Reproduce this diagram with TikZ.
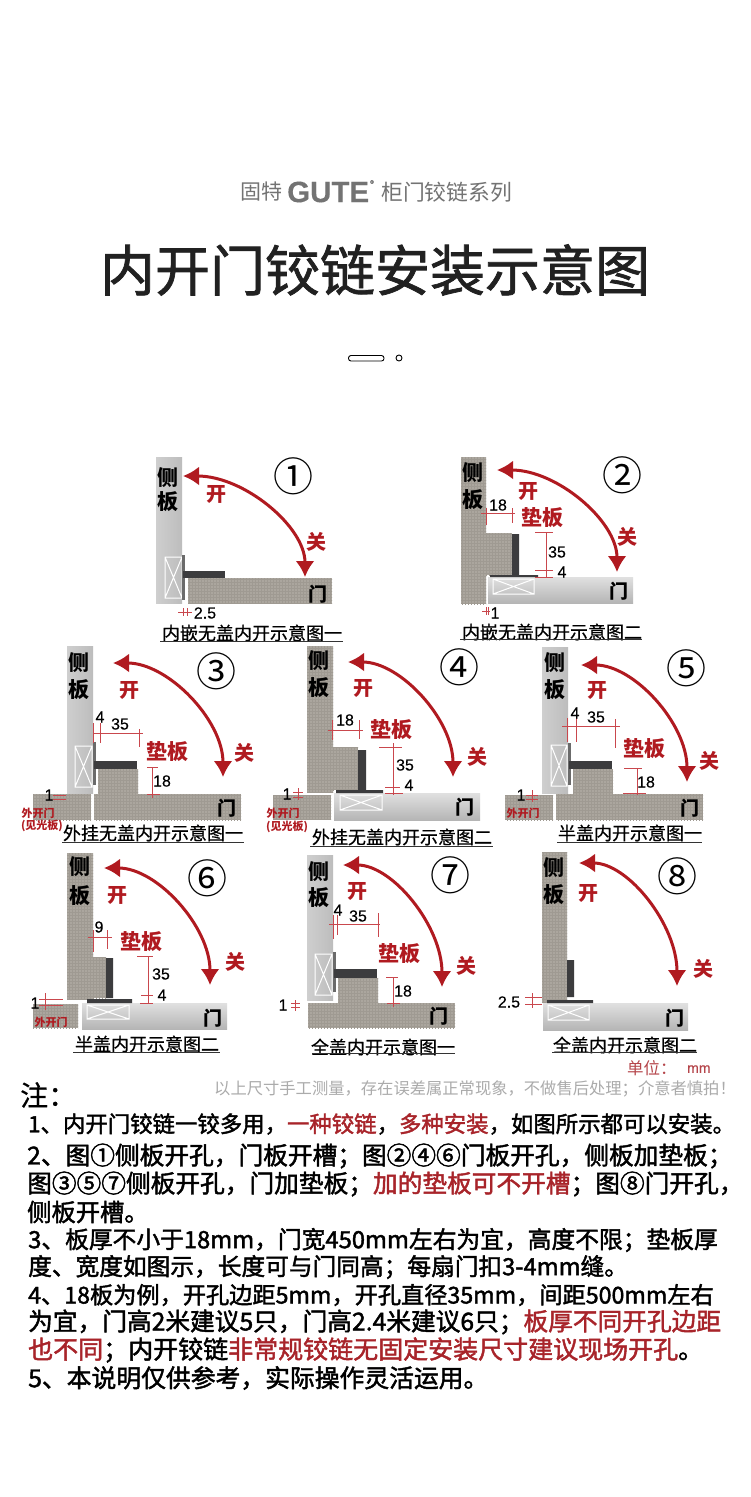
\documentclass[tikz,border=0pt]{standalone}
\usepackage{fontspec}
\usetikzlibrary{arrows.meta,calc,patterns}
\setmainfont{Noto Sans CJK SC}
\newfontfamily\latinfont[FakeBold=0.25]{Liberation Sans}
\newfontfamily\titlefont[FakeBold=1.3]{Noto Sans CJK SC}
\newfontfamily\notefont[FakeBold=1.8]{Noto Sans CJK SC}
\newfontfamily\capfont[FakeBold=0.6]{Noto Sans CJK SC}
\definecolor{swingred}{HTML}{B01A20}
\definecolor{dimred}{HTML}{C9474D}
\definecolor{notered}{HTML}{A8242A}
\definecolor{woodgray}{HTML}{ABA69E}
\definecolor{woodline}{HTML}{9F9A92}
\definecolor{hingedark}{HTML}{3C3C3E}
\newcommand{\fsize}[1]{\fontsize{#1}{#1}\selectfont}
\newcommand{\redpart}[1]{\textcolor{notered}{#1}}
\newcommand{\swing}[3]{
    \coordinate (open#1) at (#2);
    \coordinate (shut#1) at (#3);
    \draw[swingarrow] (open#1) .. controls ($(open#1)!.5!(open#1 -| shut#1)$) and ($(shut#1)!.5!(open#1 -| shut#1)$) .. (shut#1);
}
\newcommand{\crossbox}[4]{
    \draw[crossline] (#1,#2) rectangle (#3,#4) (#1,#2) -- (#3,#4) (#3,#2) -- (#1,#4);
}
\newcommand{\noteline}[5]{
    \node[noteline,font=\notefont\fsize{#4}] (#1) at (#3,#2) {#5};
}
\tikzset{
    woodboard/.style={fill=woodgray,postaction={pattern=grid,pattern color=woodline}},
    sideboard/.style={left color=black!19,right color=black!26},
    doorboard/.style={top color=black!12,bottom color=black!29},
    hingepart/.style={fill=hingedark},
    stripepart/.style={fill=black!58},
    crossline/.style={draw=white,line width=1pt},
    swingarrow/.style={draw=swingred,line width=3pt,<->,>={Latex[length=16pt,width=19pt]}},
    dimline/.style={draw=dimred,line width=0.7pt},
    sidelabel/.style={font=\bfseries\fsize{21},inner sep=0pt},
    doorlabel/.style={font=\bfseries\fsize{19},inner sep=0pt},
    redlabel/.style={font=\bfseries\fsize{20},text=swingred,inner sep=0pt},
    padlabel/.style={font=\bfseries\fsize{21},text=swingred,inner sep=0pt},
    numlabel/.style={font=\fsize{40},inner sep=0pt},
    dimtext/.style={font=\latinfont\fsize{16},inner sep=0pt},
    outerlabel/.style={font=\bfseries\fsize{11},text=swingred,inner sep=0pt},
    capnote/.style={font=\capfont\fsize{18},inner sep=0pt},
    capline/.style={draw=black!80,line width=0.8pt},
    noteline/.style={anchor=west,inner sep=0pt}
}
\begin{document}
\begin{tikzpicture}[x=1pt,y=-1pt]
    \useasboundingbox (0,0) rectangle (750,1497);
    \fill[white] (0,0) rectangle (750,1497);
    %% Heading
    \node[font=\fsize{21},text=black!55,anchor=west,inner sep=0pt] (brandcn) at (240,192) {固特};
    \node[font=\latinfont\bfseries\fsize{29.5},text=black!55,anchor=west,inner sep=0pt] (brand) at (287,192) {GUTE};
    \node[font=\latinfont\fsize{5},text=black!55,inner sep=0pt] (brandmark) at (372,182) {®};
    \node[font=\fsize{21.8},text=black!55,anchor=west,inner sep=0pt] (series) at (381,192) {柜门铰链系列};
    \node[font=\titlefont\fsize{55},text=black!87,inner sep=0pt] (title) at (375,270) {内开门铰链安装示意图};
    \draw[line width=0.9pt,rounded corners=2.5pt] (348.5,355.5) rectangle (384,361);
    \draw[line width=0.9pt] (399,358) circle (3);

    %% Panel 1
    \path[sideboard] (156,457) rectangle (182,603);
    \path[woodboard] (188,578) rectangle (332,603);
    \crossbox{165}{557}{182}{598}
    \fill[stripepart] (182,555) rectangle (185,600);
    \fill[hingepart] (183,571) rectangle (225,578);
    \swing{1}{183,476}{305,577}
    \node[sidelabel] (ce1) at (168,478) {侧};
    \node[sidelabel] (ban1) at (168,502) {板};
    \node[doorlabel] (men1) at (318,594) {门};
    \node[redlabel] (kai1) at (216,494) {开};
    \node[redlabel] (guan1) at (316,542) {关};
    \node[numlabel] (num1) at (293,476) {①};
    \draw[dimline] (178,612) -- (192,612) (183,608) -- (183,616) (187,608) -- (187,616);
    \node[dimtext] (d1a) at (205,613) {2.5};
    \node[capnote] (cap1) at (252,633) {内嵌无盖内开示意图一};
    \draw[capline] (160,641) -- (343,641);

    %% Panel 2
    \path[woodboard] (461,457) rectangle (486,604);
    \path[doorboard] (488,577) rectangle (633,603);
    \crossbox{493}{579}{534}{594}
    \path[woodboard] (486,533) rectangle (512,575);
    \fill[hingepart] (512,534) rectangle (519,575) (490,575) rectangle (538,577);
    \swing{2}{497,470}{617,572}
    \node[sidelabel] (ce2) at (473,473) {侧};
    \node[sidelabel] (ban2) at (473,500) {板};
    \node[doorlabel] (men2) at (619,591) {门};
    \node[redlabel] (kai2) at (528,491) {开};
    \node[redlabel] (guan2) at (627,537) {关};
    \node[padlabel] (pad2) at (542,518) {垫板};
    \node[numlabel] (num2) at (622,475) {②};
    \draw[dimline] (481,513) -- (515,513) (486,508) -- (486,525) (512,508) -- (512,523);
    \draw[dimline] (546,532) -- (546,578) (535,532) -- (553,532) (535,570) -- (553,570) (535,577) -- (553,577);
    \draw[dimline] (482,611) -- (490,611) (486,607) -- (486,615) (488,607) -- (488,615);
    \node[dimtext] (d2a) at (498,505) {18};
    \node[dimtext] (d2b) at (557,552) {35};
    \node[dimtext] (d2c) at (562,572) {4};
    \node[dimtext] (d2d) at (495,613) {1};
    \node[capnote] (cap2) at (552,632) {内嵌无盖内开示意图二};
    \draw[capline] (460,639) -- (642,639);

    %% Panel 3
    \path[sideboard] (67,646) rectangle (93,793);
    \path[woodboard] (94,794) rectangle (241,820);
    \path[woodboard] (33,794) rectangle (91,820);
    \crossbox{75}{746}{92}{787}
    \path[woodboard] (98,769) rectangle (138,794);
    \fill[stripepart] (93,742) rectangle (96,785);
    \fill[hingepart] (94,761) rectangle (137,769);
    \swing{3}{113,663}{223,777}
    \node[sidelabel] (ce3) at (79,663) {侧};
    \node[sidelabel] (ban3) at (79,690) {板};
    \node[doorlabel] (men3) at (227,808) {门};
    \node[redlabel] (kai3) at (129,690) {开};
    \node[redlabel] (guan3) at (244,753) {关};
    \node[padlabel] (pad3) at (167,752) {垫板};
    \node[numlabel] (num3) at (216,671) {③};
    \draw[dimline] (93,733) -- (143,733) (93,723) -- (93,743) (100,723) -- (100,743) (139,729) -- (139,747);
    \draw[dimline] (152,767) -- (152,798) (147,767) -- (158,767) (147,794) -- (160,794);
    \draw[dimline] (53,795) -- (66,795) (53,799) -- (66,799);
    \node[dimtext] (d3a) at (100,717) {4};
    \node[dimtext] (d3b) at (120,724) {35};
    \node[dimtext] (d3c) at (162,781) {18};
    \node[dimtext] (d3d) at (49,795) {1};
    \node[outerlabel] (out3a) at (38,813) {外开门};
    \node[outerlabel] (out3b) at (42,826) {(见光板)};
    \node[capnote] (cap3) at (153,833) {外挂无盖内开示意图一};
    \draw[capline] (62,842) -- (244,842);

    %% Panel 4
    \path[woodboard] (307,646) rectangle (333,792);
    \path[woodboard] (273,795) rectangle (331,819);
    \path[doorboard] (334,793) rectangle (480,820);
    \crossbox{340}{795}{382}{810}
    \path[woodboard] (333,747) rectangle (358,790);
    \fill[hingepart] (358,750) rectangle (366,790) (336,790) rectangle (383,793);
    \swing{4}{348,662}{453,777}
    \node[sidelabel] (ce4) at (319,661) {侧};
    \node[sidelabel] (ban4) at (319,688) {板};
    \node[doorlabel] (men4) at (465,807) {门};
    \node[redlabel] (kai4) at (363,688) {开};
    \node[redlabel] (guan4) at (477,757) {关};
    \node[padlabel] (pad4) at (391,730) {垫板};
    \node[numlabel] (num4) at (459,667) {④};
    \draw[dimline] (328,730) -- (363,730) (332,720) -- (332,740) (359,720) -- (359,739);
    \draw[dimline] (393,743) -- (393,795) (379,747) -- (402,747) (385,787) -- (400,787) (385,793) -- (403,793);
    \draw[dimline] (293,792) -- (303,792) (293,797) -- (303,797) (298,788) -- (298,800);
    \node[dimtext] (d4a) at (345,720) {18};
    \node[dimtext] (d4b) at (405,765) {35};
    \node[dimtext] (d4c) at (409,785) {4};
    \node[dimtext] (d4d) at (287,794) {1};
    \node[outerlabel] (out4a) at (283,813) {外开门};
    \node[outerlabel] (out4b) at (287,827) {(见光板)};
    \node[capnote] (cap4) at (402,837) {外挂无盖内开示意图二};
    \draw[capline] (310,846) -- (493,846);

    %% Panel 5
    \path[sideboard] (542,647) rectangle (568,793);
    \path[woodboard] (556,794) rectangle (703,820);
    \path[woodboard] (505,795) rectangle (553,820);
    \crossbox{551}{745}{567}{786}
    \path[woodboard] (573,769) rectangle (613,794);
    \fill[stripepart] (568,743) rectangle (571,785);
    \fill[hingepart] (569,761) rectangle (612,769);
    \swing{5}{581,665}{687,782}
    \node[sidelabel] (ce5) at (555,663) {侧};
    \node[sidelabel] (ban5) at (555,690) {板};
    \node[doorlabel] (men5) at (690,808) {门};
    \node[redlabel] (kai5) at (597,690) {开};
    \node[redlabel] (guan5) at (709,761) {关};
    \node[padlabel] (pad5) at (644,749) {垫板};
    \node[numlabel] (num5) at (686,668) {⑤};
    \draw[dimline] (562,726) -- (620,726) (567,718) -- (567,742) (576,718) -- (576,742) (615,719) -- (615,748);
    \draw[dimline] (637,768) -- (637,795) (624,768) -- (642,768) (623,793) -- (646,793);
    \draw[dimline] (526,795) -- (538,795) (526,799) -- (538,799) (532,790) -- (532,802);
    \node[dimtext] (d5a) at (575,713) {4};
    \node[dimtext] (d5b) at (596,717) {35};
    \node[dimtext] (d5c) at (646,782) {18};
    \node[dimtext] (d5d) at (521,795) {1};
    \node[outerlabel] (out5a) at (523,813) {外开门};
    \node[capnote] (cap5) at (630,833) {半盖内开示意图一};
    \draw[capline] (557,842) -- (702,842);

    %% Panel 6
    \path[woodboard] (67,853) rectangle (93,999);
    \path[woodboard] (33,1004) rectangle (78,1028);
    \path[doorboard] (82,1003) rectangle (227,1029);
    \crossbox{87}{1005}{129}{1019}
    \path[woodboard] (93,957) rectangle (106,998);
    \fill[hingepart] (106,958) rectangle (113,998) (87,999) rectangle (132,1003);
    \swing{6}{104,868}{210,985}
    \node[sidelabel] (ce6) at (80,867) {侧};
    \node[sidelabel] (ban6) at (80,896) {板};
    \node[doorlabel] (men6) at (213,1018) {门};
    \node[redlabel] (kai6) at (117,895) {开};
    \node[redlabel] (guan6) at (235,962) {关};
    \node[padlabel] (pad6) at (141,942) {垫板};
    \node[numlabel] (num6) at (207,878) {⑥};
    \draw[dimline] (88,937) -- (112,937) (93,930) -- (93,952) (107,930) -- (107,949);
    \draw[dimline] (148,956) -- (148,1003) (137,956) -- (153,956) (141,995) -- (153,995) (140,1003) -- (153,1003);
    \draw[dimline] (39,999) -- (63,999) (39,1005) -- (63,1005) (45,993) -- (45,1010);
    \node[dimtext] (d6a) at (99,927) {9};
    \node[dimtext] (d6b) at (161,974) {35};
    \node[dimtext] (d6c) at (162,995) {4};
    \node[dimtext] (d6d) at (35,1003) {1};
    \node[outerlabel] (out6a) at (51,1022) {外开门};
    \node[capnote] (cap6) at (147,1044) {半盖内开示意图二};
    \draw[capline] (73,1052) -- (220,1052);

    %% Panel 7
    \path[sideboard] (307,855) rectangle (333,1000);
    \path[woodboard] (308,1003) rectangle (455,1028);
    \crossbox{315}{954}{332}{995}
    \path[woodboard] (338,978) rectangle (378,1003);
    \fill[stripepart] (333,952) rectangle (336,992);
    \fill[hingepart] (334,969) rectangle (377,978);
    \swing{7}{343,865}{442,987}
    \node[sidelabel] (ce7) at (319,872) {侧};
    \node[sidelabel] (ban7) at (319,898) {板};
    \node[doorlabel] (men7) at (439,1016) {门};
    \node[redlabel] (kai7) at (357,891) {开};
    \node[redlabel] (guan7) at (466,966) {关};
    \node[padlabel] (pad7) at (399,954) {垫板};
    \node[numlabel] (num7) at (450,875) {⑦};
    \draw[dimline] (329,924) -- (380,924) (333,915) -- (333,939) (337,915) -- (337,935) (378,913) -- (378,937);
    \draw[dimline] (393,977) -- (393,1007) (386,977) -- (398,977) (387,1003) -- (400,1003);
    \draw[dimline] (291,1003) -- (300,1003) (291,1007) -- (300,1007) (295,1000) -- (295,1011);
    \node[dimtext] (d7a) at (338,910) {4};
    \node[dimtext] (d7b) at (358,916) {35};
    \node[dimtext] (d7c) at (403,991) {18};
    \node[dimtext] (d7d) at (283,1005) {1};
    \node[capnote] (cap7) at (383,1047) {全盖内开示意图一};
    \draw[capline] (312,1053) -- (455,1053);

    %% Panel 8
    \path[woodboard] (542,852) rectangle (567,1002);
    \path[doorboard] (543,1003) rectangle (688,1030);
    \crossbox{548}{1005}{589}{1020}
    \fill[hingepart] (567,960) rectangle (574,997) (547,1000) rectangle (593,1003);
    \swing{8}{579,863}{677,986}
    \node[sidelabel] (ce8) at (554,868) {侧};
    \node[sidelabel] (ban8) at (554,895) {板};
    \node[doorlabel] (men8) at (675,1018) {门};
    \node[redlabel] (kai8) at (588,893) {开};
    \node[redlabel] (guan8) at (703,969) {关};
    \node[numlabel] (num8) at (677,876) {⑧};
    \draw[dimline] (525,997) -- (542,997) (525,1004) -- (542,1004) (532,993) -- (532,1008);
    \node[dimtext] (d8a) at (509,1002) {2.5};
    \node[capnote] (cap8) at (625,1045) {全盖内开示意图二};
    \draw[capline] (552,1052) -- (697,1052);
    \node[font=\fsize{16.5},text=notered!85,anchor=west,inner sep=0pt] (unit) at (627,1068) {单位：};
    \node[font=\latinfont\fsize{14},text=notered!85,anchor=west,inner sep=0pt] (unitmm) at (687,1069) {mm};

    %% Notes
    \node[font=\capfont\fsize{28},anchor=west,inner sep=0pt] (notehead) at (20,1095) {注：};
    \node[font=\fsize{16.3},text=black!33,anchor=west,inner sep=0pt] (disclaimer) at (214,1089) {以上尺寸手工测量，存在误差属正常现象，不做售后处理；介意者慎拍！};
    \noteline{n1}{1124}{28}{22.4}{1、内开门铰链一铰多用，\redpart{一种铰链}，\redpart{多种安装}，如图所示都可以安装。}
    \noteline{n2}{1156}{27}{24.7}{2、图①侧板开孔，门板开槽；图②④⑥门板开孔，侧板加垫板；}
    \noteline{n3}{1184}{27}{24.7}{图③⑤⑦侧板开孔，门加垫板；\redpart{加的垫板可不开槽}；图⑧门开孔，}
    \noteline{n4}{1212}{27}{24.3}{侧板开槽。}
    \noteline{n5}{1240}{28}{23.75}{3、板厚不小于18mm，门宽450mm左右为宜，高度不限；垫板厚}
    \noteline{n6}{1267}{28}{23.7}{度、宽度如图示，长度可与门同高；每扇门扣3-4mm缝。}
    \noteline{n7}{1295}{28}{23.2}{4、18板为例，开孔边距5mm，开孔直径35mm，间距500mm左右}
    \noteline{n8}{1322}{28}{24.7}{为宜，门高2米建议5只，门高2.4米建议6只；\redpart{板厚不同开孔边距}}
    \noteline{n9}{1350}{28}{25}{\redpart{也不同}；内开铰链\redpart{非常规铰链无固定安装尺寸建议现场开孔}。}
    \noteline{n10}{1378}{28}{24.8}{5、本说明仅供参考，实际操作灵活运用。}
\end{tikzpicture}
\end{document}
